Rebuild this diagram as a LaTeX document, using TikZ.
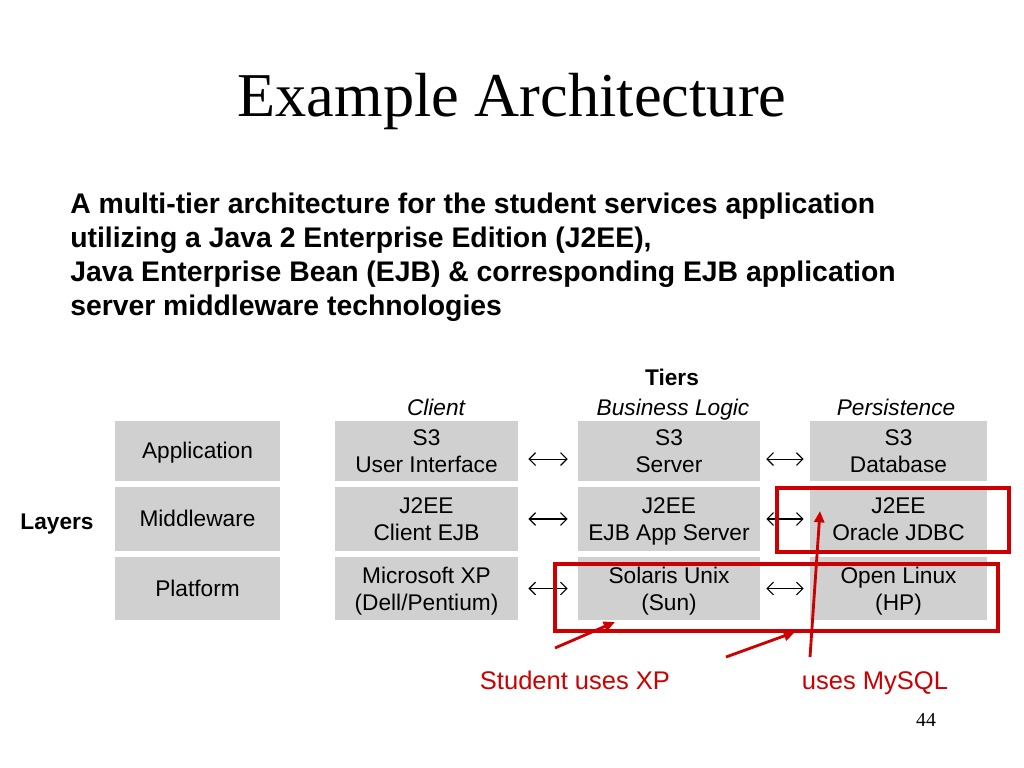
\documentclass[tikz,border=0pt]{standalone}
\usepackage{fontspec}
\setmainfont{Liberation Sans}
\newfontfamily\slidefont{Liberation Serif}
\usetikzlibrary{arrows.meta}
\definecolor{cellgray}{HTML}{D0D0D0}
\definecolor{hilite}{HTML}{CC0000}
\newcommand\cellstrut{\rule[-3.6pt]{0pt}{18pt}}
% two centred lines, box measured from the cap top to the last baseline
\newcommand\twoline[2]{\vbox{\baselineskip=19.2pt
  \halign{\hfil##\hfil\cr\rule{0pt}{11.2pt}#1\cr#2\cr}}}
\tikzset{
  cell/.style={fill=cellgray, inner sep=0pt, align=center,
               font=\fontsize{16}{19.2}\selectfont,
               execute at begin node=\cellstrut, execute at end node=\cellstrut},
  tiercell/.style={fill=cellgray, inner sep=0pt, text depth=0pt,
                   font=\fontsize{16}{19.2}\selectfont},
  layercell/.style={cell, minimum width=4.09cm},
  clientcell/.style={tiercell, minimum width=4.54cm},
  bizcell/.style={tiercell, minimum width=4.51cm},
  perscell/.style={tiercell, minimum width=4.39cm},
  rowa/.style={minimum height=1.49cm},
  rowb/.style={minimum height=1.59cm},
  rowc/.style={minimum height=1.56cm},
  biar/.style={{Straight Barb[length=4.5pt,width=9pt]}-{Straight Barb[length=4.5pt,width=9pt]},
               line width=0.8pt},
  redar/.style={-{Triangle[length=8pt,width=7pt]}, line width=2pt, draw=hilite},
  redframe/.style={draw=hilite, line width=2.8pt},
  head/.style={anchor=base, font=\fontsize{16}{19.2}\selectfont\itshape},
  boldhead/.style={anchor=base, font=\fontsize{16}{19.2}\selectfont\bfseries},
  note/.style={anchor=base, font=\fontsize{18}{21.6}\selectfont, color=hilite}
}
\begin{document}
\begin{tikzpicture}[x=0.0248cm,y=-0.0248cm]
  \useasboundingbox[fill=white] (0,0) rectangle (1024,768);

  \node (title) at (512,102) {\slidefont\fontsize{44}{52}\selectfont Example Architecture};
  \node[anchor=north west, inner sep=0pt, align=left,
        font=\fontsize{20}{24}\selectfont\bfseries] (intro) at (70,193)
    {A multi-tier architecture for the student services application\\
     utilizing a Java 2 Enterprise Edition (J2EE),\\
     Java Enterprise Bean (EJB) \& corresponding EJB application\\
     server middleware technologies};

  % headings
  \node[boldhead] (tiers) at (672,385) {Tiers};
  \node[boldhead] (layers) at (57,529) {Layers};
  \node[head] (hclient) at (436,415) {Client};
  \node[head] (hbiz) at (673,415) {Business Logic};
  \node[head] (hpers) at (896,415) {Persistence};

  % layers
  \node[layercell, rowa] (lapp) at (197.5,451) {Application};
  \node[layercell, rowb] (lmid) at (197.5,519) {Middleware};
  \node[layercell, rowc] (lplat) at (197.5,588.5) {Platform};

  % tiers
  \node[clientcell, rowa] (cui) at (426.5,451) {\twoline{S3}{User Interface}};
  \node[clientcell, rowb] (cejb) at (426.5,519) {\twoline{J2EE}{Client EJB}};
  \node[clientcell, rowc] (cxp) at (426.5,588.5) {\twoline{Microsoft XP}{(Dell/Pentium)}};
  \node[bizcell, rowa] (bsrv) at (669,451) {\twoline{S3}{Server}};
  \node[bizcell, rowb] (bejb) at (669,519) {\twoline{J2EE}{EJB App Server}};
  \node[bizcell, rowc] (bsun) at (669,588.5) {\twoline{Solaris Unix}{(Sun)}};
  \node[perscell, rowa] (pdb) at (898.5,451) {\twoline{S3}{Database}};
  \node[perscell, rowb] (pjdbc) at (898.5,519) {\twoline{J2EE}{Oracle JDBC}};
  \node[perscell, rowc] (plin) at (898.5,588.5) {\twoline{Open Linux}{(HP)}};

  \draw[biar, shorten <=0.25cm, shorten >=0.25cm] ([yshift=-0.2cm]cui.east) -- ([yshift=-0.2cm]bsrv.west);
  \draw[biar, shorten <=0.25cm, shorten >=0.25cm] (cejb) -- (bejb);
  \draw[biar, shorten <=0.25cm, shorten >=0.25cm] (cxp) -- (bsun);
  \draw[biar, shorten <=0.15cm, shorten >=0.15cm] ([yshift=-0.2cm]bsrv.east) -- ([yshift=-0.2cm]pdb.west);
  \draw[biar, shorten <=0.15cm, shorten >=0.15cm] (bejb) -- (pjdbc);
  \draw[biar, shorten <=0.15cm, shorten >=0.15cm] (bsun) -- (plin);

  % highlights
  \draw[redframe] (777,488) rectangle (1009,552);
  \draw[redframe] (555,564) rectangle (998,631);
  \node[note] (student) at (575,689) {Student uses XP};
  \node[note] (mysql) at (875,689) {uses MySQL};
  \coordinate (s1) at (555,648);
  \coordinate (s2) at (726,657);
  \coordinate (s3) at (810,657);
  \coordinate (t1) at (615,622);
  \coordinate (t2) at (795,632);
  \coordinate (t3) at (820,511);
  \draw[redar] (s1) -- (t1);
  \draw[redar] (s2) -- (t2);
  \draw[redar] (s3) -- (t3);

  \node (pageno) at (926,720) {\slidefont\fontsize{14}{16}\selectfont 44};
\end{tikzpicture}
\end{document}
